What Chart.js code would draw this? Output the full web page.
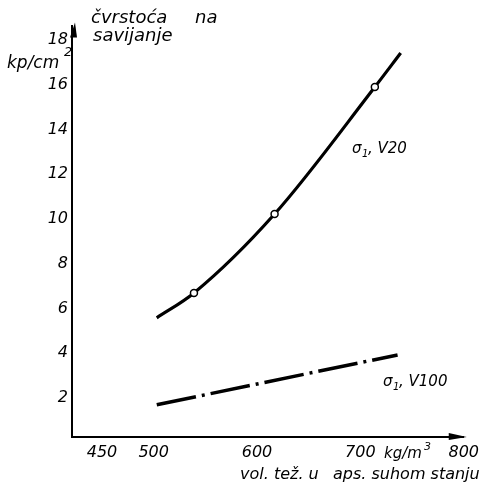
<!DOCTYPE html>
<html>
<head>
<meta charset="utf-8">
<script src="https://cdn.jsdelivr.net/npm/chart.js@4.4.1/dist/chart.umd.min.js"></script>
<style>
  html, body { margin: 0; padding: 0; background: #fff; }
  #wrap { width: 485px; height: 486px; position: relative; }
</style>
</head>
<body>
<div id="wrap"><canvas id="chart"></canvas></div>
<script>
// density (kg/m3) vs bending strength (kp/cm2)
const xTicks = [450, 500, 600, 700, 800];
const yTicks = [2, 4, 6, 8, 10, 12, 14, 16, 18];

const v20X = [503, 539, 617, 714, 739];
const v20Y = [5.58, 6.69, 10.22, 15.9, 17.42];
const v20Marked = [false, true, true, true, false];

const v100X = [503, 736];
const v100Y = [1.69, 3.92];

const font = 'DejaVu Sans';

const toPoints = (xs, ys) => xs.map((x, i) => ({ x: x, y: ys[i] }));

const extras = {
    id: 'extras',
    afterDraw(chart) {
        const c = chart.ctx;
        const a = chart.chartArea;
        c.save();
        c.fillStyle = '#000';
        // arrow heads
        c.beginPath();
        c.moveTo(a.left + 3, a.top - 3);
        c.lineTo(a.left - 2, a.top + 12);
        c.lineTo(a.left + 5, a.top + 12);
        c.closePath();
        c.fill();
        c.beginPath();
        c.moveTo(a.right + 3, a.bottom);
        c.lineTo(a.right - 15, a.bottom - 4);
        c.lineTo(a.right - 15, a.bottom + 3);
        c.closePath();
        c.fill();

        c.textBaseline = 'alphabetic';
        c.textAlign = 'left';
        c.font = 'italic 18px "' + font + '"';
        c.fillText('čvrstoća', 91, 23);
        c.fillText('na', 195, 23);
        c.fillText('savijanje', 93, 41);
        c.font = 'italic 17px "' + font + '"';
        c.fillText('kp/cm', 7, 68);
        c.font = 'italic 13px "' + font + '"';
        c.fillText('2', 64, 56);

        c.font = 'italic 15px "' + font + '"';
        c.fillText('kg/m', 384, 458);
        c.font = 'italic 11px "' + font + '"';
        c.fillText('3', 424, 450);
        c.font = 'italic 16px "' + font + '"';
        c.fillText('vol. tež. u', 240, 479);
        c.fillText('aps. suhom stanju', 333, 479);

        c.font = 'italic 15px "' + font + '"';
        c.fillText('σ', 352, 153);
        c.fillText(', V20', 368, 153);
        c.fillText('σ', 383, 386);
        c.fillText(', V100', 399, 386);
        c.font = 'italic 10px "' + font + '"';
        c.fillText('1', 362, 157);
        c.fillText('1', 393, 390);
        c.restore();
    }
};

const ctx = document.getElementById('chart').getContext('2d');
const chart = new Chart(ctx, {
    type: 'line',
    data: {
        datasets: [{
            label: 'σ1, V20',
            data: toPoints(v20X, v20Y),
            borderColor: '#000',
            borderWidth: 3.2,
            cubicInterpolationMode: 'monotone',
            pointRadius: v20Marked.map(m => m ? 3.5 : 0),
            pointBackgroundColor: '#fff',
            pointBorderColor: '#000',
            pointBorderWidth: 1.5
        }, {
            label: 'σ1, V100',
            data: toPoints(v100X, v100Y),
            borderColor: '#000',
            borderWidth: 3.5,
            borderDash: [40, 6, 3, 6],
            pointRadius: 0
        }]
    },
    options: {
        responsive: true,
        maintainAspectRatio: false,
        animation: false,
        layout: { padding: { left: 0, right: 15, top: 25.5, bottom: 0 } },
        plugins: {
            legend: { display: false },
            tooltip: { enabled: false }
        },
        scales: {
            x: {
                type: 'linear',
                min: 421,
                max: 800,
                afterBuildTicks: s => { s.ticks = xTicks.map(v => ({ value: v })); },
                afterFit: s => { s.height = 49; },
                grid: { display: false, drawTicks: false },
                border: { color: '#000', width: 2 },
                ticks: {
                    color: '#000',
                    padding: 6,
                    maxRotation: 0,
                    font: { family: font, size: 16, style: 'italic' }
                }
            },
            y: {
                min: 0.25,
                max: 18.65,
                afterBuildTicks: s => { s.ticks = yTicks.map(v => ({ value: v })); },
                afterFit: s => { s.width = 72; },
                grid: { display: false, drawTicks: false },
                border: { color: '#000', width: 2 },
                ticks: {
                    color: '#000',
                    padding: 4,
                    font: { family: font, size: 16, style: 'italic' }
                }
            }
        }
    },
    plugins: [extras]
});
</script>
</body>
</html>
